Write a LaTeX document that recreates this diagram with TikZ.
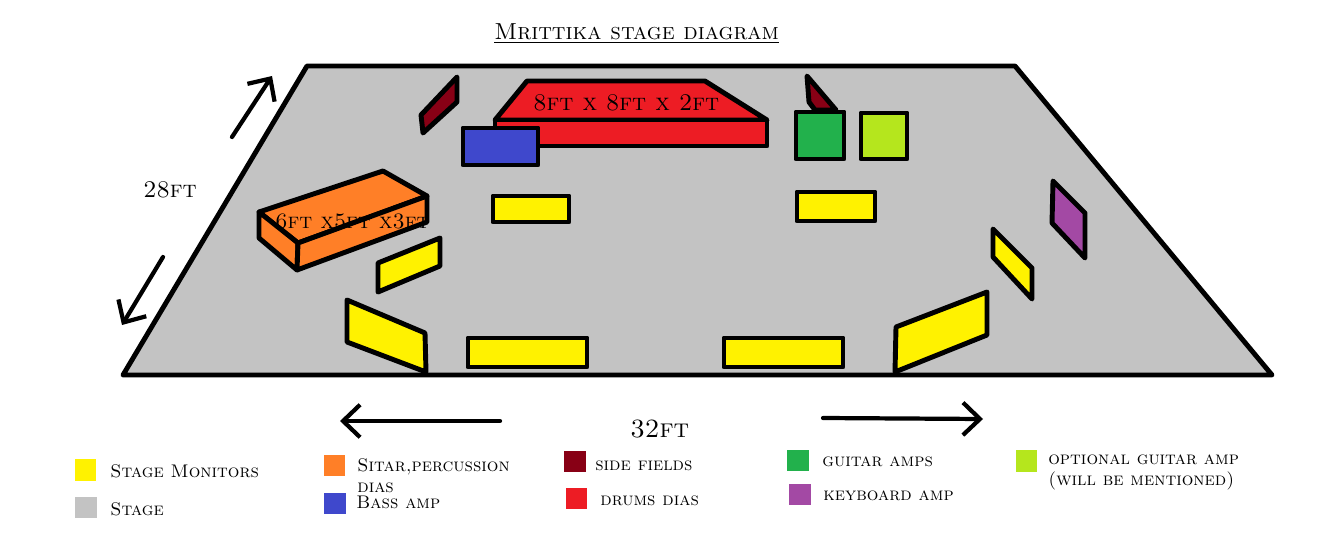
\documentclass[tikz,border=0pt]{standalone}
\usepackage{xcolor}
\usetikzlibrary{arrows.meta}
\definecolor{monitor}{HTML}{FFF200}
\definecolor{stagegray}{HTML}{C3C3C3}
\definecolor{dias}{HTML}{FF7F27}
\definecolor{bassamp}{HTML}{3F48CC}
\definecolor{sidefield}{HTML}{880015}
\definecolor{drums}{HTML}{ED1C24}
\definecolor{guitaramp}{HTML}{22B14C}
\definecolor{keyamp}{HTML}{A349A4}
\definecolor{optamp}{HTML}{B5E61D}
\tikzset{
  piece/.style={draw, line width=2.8pt, line join=round, fill=#1},
  swatch/.style={fill=#1, inner sep=0pt, minimum width=12pt, minimum height=12pt},
  legendtext/.style={anchor=base west, inner sep=0pt, align=left, font=\scshape\fontsize{10.4}{11.6}\selectfont},
  sizetext/.style={anchor=base west, inner sep=0pt, font=\scshape\fontsize{13.6}{15}\selectfont},
  dimarrow/.style={line width=2.4pt, line cap=round, -{Straight Barb[length=3.4mm,width=6.5mm,line width=2.4pt]}}
}
\begin{document}
\begin{tikzpicture}[x=0.02cm,y=-0.02cm]
\useasboundingbox (0,0) rectangle (1328,537);
\node[sizetext, font=\scshape\fontsize{13.2}{15}\selectfont] (title) at (494,40) {\underline{Mrittika stage diagram}};
% stage
\draw[piece=stagegray] (307,66) -- (1015,66) -- (1272,375) -- (123,375) -- cycle;
% side fields
\draw[piece=sidefield] (457,77) -- (457,102) -- (423,133) -- (421,115) -- cycle;
\draw[piece=sidefield] (807,76) -- (836,110) -- (815,110) -- (809,102) -- cycle;
% drums dias
\draw[piece=drums] (527,81) -- (705,81) -- (767,120) -- (495,120) -- cycle;
\draw[piece=drums] (495,120) -- (767,120) -- (767,146) -- (495,146) -- cycle;
\node[sizetext] (drumsize) at (533,111) {8ft x 8ft x 2ft};
% amps
\draw[piece=bassamp] (463,128) rectangle (538,165);
\draw[piece=guitaramp] (796,112) rectangle (844,159);
\draw[piece=optamp] (861,113) rectangle (907,159);
\draw[piece=keyamp] (1053,181) -- (1085,213) -- (1085,258) -- (1052,223) -- cycle;
% sitar dias
\draw[piece=dias] (259,212) -- (383,171) -- (427,196) -- (298,243) -- cycle;
\draw[piece=dias] (259,212) -- (298,243) -- (297,270) -- (259,238) -- cycle;
\draw[piece=dias] (298,243) -- (427,196) -- (427,222) -- (297,270) -- cycle;
\node[sizetext, font=\scshape\fontsize{12.5}{15}\selectfont] (diassize) at (275,228) {6ft x5ft x3ft};
% monitors
\draw[piece=monitor] (493,196) rectangle (569,222);
\draw[piece=monitor] (797,192) rectangle (875,221);
\draw[piece=monitor] (468,338) rectangle (587,367);
\draw[piece=monitor] (724,338) rectangle (843,367);
\draw[piece=monitor] (378,263) -- (440,238) -- (440,266) -- (378,292) -- cycle;
\draw[piece=monitor] (347,300) -- (425,333) -- (426,372) -- (347,342) -- cycle;
\draw[piece=monitor] (993,229) -- (1032,268) -- (1032,299) -- (993,257) -- cycle;
\draw[piece=monitor] (987,292) -- (987,335) -- (895,372) -- (896,327) -- cycle;
% dimensions
\coordinate (D1) at (232,137);
\coordinate (D2) at (272,76);
\coordinate (D3) at (163,257);
\coordinate (D4) at (122,325);
\coordinate (W1) at (500,421);
\coordinate (W2) at (340,421);
\coordinate (W3) at (823,418);
\coordinate (W4) at (983,419);
\draw[dimarrow] (D1) -- (D2);
\draw[dimarrow] (D3) -- (D4);
\draw[dimarrow] (W1) -- (W2);
\draw[dimarrow] (W3) -- (W4);
\node[sizetext] (depth) at (143,197) {28ft};
\node[sizetext, font=\scshape\fontsize{15}{15}\selectfont] (width) at (630,437) {32ft};
% legend
\node[swatch=monitor] (k1) at (85.5,470) {};
\node[swatch=stagegray] (k2) at (86,507.5) {};
\node[swatch=dias] (k3) at (334.5,465.5) {};
\node[swatch=bassamp] (k4) at (335,503.5) {};
\node[swatch=sidefield] (k5) at (575,461.5) {};
\node[swatch=drums] (k6) at (576.5,498.5) {};
\node[swatch=guitaramp] (k7) at (798,460.5) {};
\node[swatch=keyamp] (k8) at (800,494.5) {};
\node[swatch=optamp] (k9) at (1026.5,461) {};
\node[legendtext] (t1) at (110,477) {Stage Monitors};
\node[legendtext] (t2) at (110,515) {Stage};
\node[legendtext] (t3) at (357,492) {Sitar,percussion\\dias};
\node[legendtext] (t4) at (356,508) {Bass amp};
\node[legendtext] (t5) at (595,470) {side fields};
\node[legendtext] (t6) at (600,505) {drums dias};
\node[legendtext] (t7) at (822,466) {guitar amps};
\node[legendtext] (t8) at (823,500) {keyboard amp};
\node[legendtext] (t9) at (1048,485) {optional guitar amp\\(will be mentioned)};
\end{tikzpicture}
\end{document}
